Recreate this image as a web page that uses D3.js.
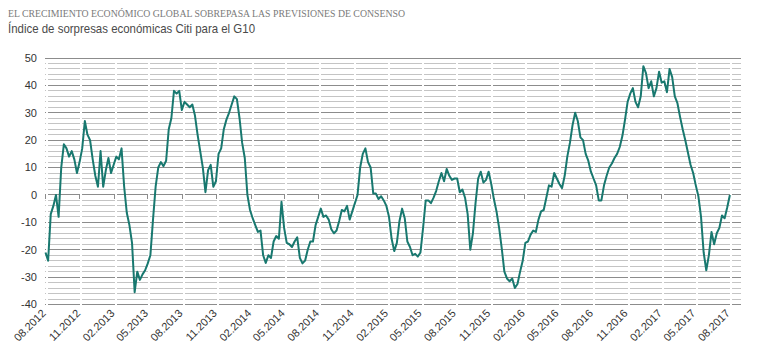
<!DOCTYPE html>
<html><head><meta charset="utf-8">
<script src="https://cdn.jsdelivr.net/npm/d3@7"></script>
<style>
html,body{margin:0;padding:0;background:#fff;}
svg{display:block;}
</style></head>
<body>
<svg id="chart" width="760" height="357"></svg>
<script>
// ---- data ----
const title = "EL CRECIMIENTO ECONÓMICO GLOBAL SOBREPASA LAS PREVISIONES DE CONSENSO";
const subtitle = "Índice de sorpresas económicas Citi para el G10";
const seriesStart = "2012-08-01";   // weekly observations from this date
const weeklyValues = [
-21,-24,-7,-4,0,-8,10,18.5,17,14,16,13,8,12,17,27,22,20,13,7,3,16,3,9,13.5,8,11,14,13,17,
3,-6.5,-11,-17.5,-35.5,-28,-31,-29,-27.5,-25,-22,-9,3,10,12,10.5,12.5,24,28,38,37,38,31,34,33,32,33,29,22,16,
10,1,9,11,3,5,15,17,24,27.5,30,33,36,35,28,19,13.5,0,-5.5,-8.5,-11,-13.5,-13,-22,-24.8,-22,-23,-17,-15,-16,
-2.5,-12,-17.5,-18,-19,-17,-15.5,-23,-25,-24,-20,-17,-17,-11,-8,-5,-8,-7.5,-9,-12.5,-14,-13,-9.5,-5.5,-6,-4,-9,-6,-3,0,
10,15,17,12,10,0.5,0.5,-1.5,-0.5,-2,-4,-8,-16,-20.5,-17.5,-9.5,-5,-8.5,-17,-19,-22,-21.5,-22.5,-21,-12,-2,-2,-3,-1,1.5,
5,8,5,9.5,7,5.5,6,6,1,2,-1,-7,-20,-14,-3,6,8.5,4.5,5.5,8.5,4,-1.5,-6,-12,-19.5,-28,-30.5,-31.5,-30.5,-34,
-32.5,-28,-24,-17.5,-17,-14.5,-13,-13.5,-9,-6,-5.5,-1,3.5,3,8,6,4,2.5,7,14,19,25.5,30,27,21,20,15,12.5,8.5,6,
3.5,-2,-2,3.5,7,10,11.5,13.5,15,17.5,21.5,27.4,34,37,39,34,32,36,47,44.5,39,41.5,36,39,45,41,41.5,37.5,46,43,
36,33.5,28.5,24,20,15.5,11,8,3.5,-0.5,-8,-21,-27.5,-22,-13.5,-18,-14,-12,-7.5,-8.5,-4.5,0
];
const xTickDates = ["2012-08-01","2012-11-01","2013-02-01","2013-05-01","2013-08-01","2013-11-01",
  "2014-02-01","2014-05-01","2014-08-01","2014-11-01","2015-02-01","2015-05-01","2015-08-01",
  "2015-11-01","2016-02-01","2016-05-01","2016-08-01","2016-11-01","2017-02-01","2017-05-01","2017-08-01"];
const yTicks = [50,40,30,20,10,0,-10,-20,-30,-40];

// ---- build ----
const parse = d3.utcParse("%Y-%m-%d");
const start = parse(seriesStart);
const data = weeklyValues.map((v,i)=>({date:d3.utcDay.offset(start,7*i), value:v}));
const ticks = xTickDates.map(parse);

const svg = d3.select("#chart");
const x = d3.scaleUtc().domain([parse("2012-08-01"), parse("2017-08-01")]).range([45.5, 729.5]);
const y = d3.scaleLinear().domain([-40,50]).range([304.5, 58]);
const gridLeft = 45, gridRight = 741;

// title
svg.append("text").attr("x",8).attr("y",16.5)
  .attr("font-family","'Liberation Serif','DejaVu Serif',serif").attr("font-size",9.6)
  .attr("fill","#7a7a7a").attr("textLength",397).attr("lengthAdjust","spacingAndGlyphs")
  .text(title);
svg.append("text").attr("x",8).attr("y",33)
  .attr("font-family","'Liberation Sans',Arial,sans-serif").attr("font-size",12.2)
  .attr("fill","#4a4a4a").attr("textLength",247).attr("lengthAdjust","spacingAndGlyphs")
  .text(subtitle);

// grid
const gridVals = d3.range(-40, 51, 2);
const g = svg.append("g").attr("shape-rendering","crispEdges");
g.selectAll("line.grid").data(gridVals.filter(v=>v!==50)).join("line")
  .attr("x1",gridLeft).attr("x2",gridRight)
  .attr("y1",d=>y(d)).attr("y2",d=>y(d))
  .attr("stroke",d=> d%10===0 ? "#8c8c8c" : "#c4c4c4").attr("stroke-width",1);

// white gaps at tick positions
g.selectAll("line.gap").data(ticks).join("line")
  .attr("x1",d=>x(d)+1.5).attr("x2",d=>x(d)+1.5)
  .attr("y1",y(48)-2).attr("y2",y(-40)+2)
  .attr("stroke","#fff").attr("stroke-width",2);

// top line redrawn unbroken
g.append("line").attr("x1",gridLeft).attr("x2",gridRight).attr("y1",y(50)).attr("y2",y(50))
  .attr("stroke","#8c8c8c");

// x axis ticks on zero line
g.selectAll("line.xt").data(ticks).join("line")
  .attr("x1",d=>x(d)).attr("x2",d=>x(d))
  .attr("y1",y(0)-1).attr("y2",y(0)+4)
  .attr("stroke","#8c8c8c");

// y labels
svg.append("g").selectAll("text").data(yTicks).join("text")
  .attr("x",37).attr("y",d=>y(d)).attr("dy","0.35em")
  .attr("text-anchor","end")
  .attr("font-family","'Liberation Sans',Arial,sans-serif").attr("font-size",11)
  .attr("fill","#333")
  .text(d=>d);

// x labels
const fmt = d3.utcFormat("%m.%Y");
svg.append("g").selectAll("text").data(ticks).join("text")
  .attr("transform",d=>`translate(${x(d)+1},${314}) rotate(-45)`)
  .attr("text-anchor","end")
  .attr("font-family","'Liberation Sans',Arial,sans-serif").attr("font-size",11)
  .attr("fill","#333")
  .text(d=>fmt(d));

// line
const line = d3.line().x(d=>x(d.date)).y(d=>y(d.value));
svg.append("path").datum(data)
  .attr("d",line).attr("fill","none")
  .attr("stroke","#18786f").attr("stroke-width",2).attr("stroke-linejoin","round");
</script>
</body></html>
